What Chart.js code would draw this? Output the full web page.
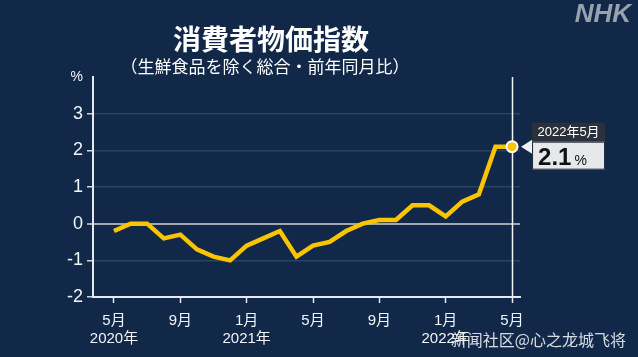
<!DOCTYPE html>
<html><head><meta charset="utf-8">
<script src="https://cdn.jsdelivr.net/npm/chart.js@4"></script>
<style>html,body{margin:0;padding:0;background:#112849;}#wrap{width:638px;height:357px;position:relative;}</style>
</head><body><div id="wrap"><canvas id="c" width="638" height="357"></canvas></div>
<script>
const months = ['2020年5月','6月','7月','8月','9月','10月','11月','12月','2021年1月','2月','3月','4月','5月','6月','7月','8月','9月','10月','11月','12月','2022年1月','2月','3月','4月','2022年5月'];
const cpi = [-0.2,0.0,0.0,-0.4,-0.3,-0.7,-0.9,-1.0,-0.6,-0.4,-0.2,-0.9,-0.6,-0.5,-0.2,0.0,0.1,0.1,0.5,0.5,0.2,0.6,0.8,2.1,2.1];
const tickPositions = [0,4,8,12,16,20,24];
const tickMonths = ['5月','9月','1月','5月','9月','1月','5月'];
const tickYears = ['2020年','','2021年','','','2022年',''];
const yTicks = [-2,-1,0,1,2,3,4];
const titleText = '消費者物価指数';
const subtitleText = '（生鮮食品を除く総合・前年同月比）';
const calloutLabel = '2022年5月';
const calloutValue = '2.1';
const watermark = '新闻社区@心之龙城飞将';

const BG = '#112849';
const FONT = "'Liberation Sans','Noto Sans CJK JP',sans-serif";
const JP = "'Noto Sans CJK JP',sans-serif";

const deco = {
  id:'deco',
  beforeDraw(chart){
    const ctx = chart.ctx;
    ctx.save();
    ctx.fillStyle = BG; ctx.fillRect(0,0,chart.width,chart.height);
    ctx.fillStyle = '#ffffff'; ctx.textAlign='center'; ctx.textBaseline='middle';
    ctx.font = "bold 28px " + JP; ctx.fillText(titleText, 271, 39);
    ctx.font = "17px " + JP; ctx.fillText(subtitleText, 265, 67);
    ctx.fillStyle = '#98a2ae'; ctx.font = "italic bold 26px 'Liberation Sans',sans-serif";
    ctx.textAlign='right'; ctx.fillText('NHK', 631, 15);
    ctx.restore();
  },
  beforeDatasetsDraw(chart){
    const ctx = chart.ctx, xs = chart.scales.x, a = chart.chartArea;
    const x = Math.round(xs.getPixelForValue(cpi.length-1))+0.5;
    ctx.save(); ctx.strokeStyle='#f2f4f6'; ctx.lineWidth=1.5;
    ctx.beginPath(); ctx.moveTo(x,a.top); ctx.lineTo(x,a.bottom); ctx.stroke(); ctx.restore();
  },
  afterDraw(chart){
    const ctx = chart.ctx, xs = chart.scales.x, ys = chart.scales.y;
    const i = cpi.length-1;
    const px = xs.getPixelForValue(i), py = ys.getPixelForValue(cpi[i]);
    ctx.save();
    ctx.fillStyle='#eef0f3';
    ctx.beginPath(); ctx.moveTo(px+9,py); ctx.lineTo(px+20,py-7); ctx.lineTo(px+20,py+7); ctx.closePath(); ctx.fill();
    const bx = px+20, bw = 73;
    ctx.fillStyle='#2b313b'; ctx.fillRect(bx, py-24, bw, 19);
    ctx.fillStyle='#ffffff'; ctx.font="13px " + FONT; ctx.textAlign='center'; ctx.textBaseline='middle';
    ctx.fillText(calloutLabel, bx+bw/2, py-14);
    ctx.fillStyle='#e6e8ec'; ctx.fillRect(bx, py-5, bw, 28);
    ctx.strokeStyle='#1c2633'; ctx.lineWidth=1; ctx.strokeRect(bx+0.5, py-4.5, bw-1, 27);
    ctx.fillStyle='#111111'; ctx.textAlign='left'; ctx.textBaseline='alphabetic';
    ctx.font="bold 24px " + FONT; ctx.fillText(calloutValue, bx+6, py+18);
    const w = ctx.measureText(calloutValue).width;
    ctx.font="14px " + FONT; ctx.fillText('%', bx+6+w+3, py+18);
    ctx.fillStyle='rgba(235,238,242,0.9)'; ctx.font="16px 'Noto Sans CJK SC',sans-serif";
    ctx.textAlign='right'; ctx.textBaseline='middle'; ctx.fillText(watermark, 626, 340);
    ctx.restore();
  }
};

new Chart(document.getElementById('c'), {
  type:'line',
  data:{ datasets:[{
    data: cpi.map((v,i)=>({x:i,y:v})),
    borderColor:'#f9c500', borderWidth:4.5, tension:0, borderJoinStyle:'miter',
    pointRadius: cpi.map((v,i)=> i===cpi.length-1 ? 5.5 : 0),
    pointBackgroundColor:'#f9c500', pointBorderColor:'#ffffff', pointBorderWidth:2,
    clip:false
  }]},
  options:{
    responsive:false, animation:false, devicePixelRatio:1,
    layout:{padding:{top:77,right:118,left:0,bottom:0}},
    plugins:{legend:{display:false}, tooltip:{enabled:false}},
    scales:{
      x:{
        type:'linear', min:-1.266, max:24.48,
        afterBuildTicks(s){ s.ticks = tickPositions.map(v=>({value:v})); },
        afterFit(s){ s.height = 60; },
        ticks:{ autoSkip:false, maxRotation:0, color:'#f2f4f6', padding:8,
          font:{family:FONT,size:15,lineHeight:1.25},
          callback(v){ const k=tickPositions.indexOf(v); return tickYears[k] ? [tickMonths[k], tickYears[k]] : tickMonths[k]; } },
        grid:{ drawOnChartArea:false, drawTicks:true, tickLength:6, tickColor:'#e6e9ed', tickWidth:1.5 },
        border:{ display:true, color:'#e6e9ed', width:2 }
      },
      y:{
        min:-2, max:4,
        afterBuildTicks(s){ s.ticks = yTicks.map(v=>({value:v})); },
        afterFit(s){ s.width = 93; },
        ticks:{ color:'#f2f4f6', padding:4,
          font:(c)=> ({family:FONT, size: c.tick && c.tick.value===4 ? 14 : 18}),
          callback(v){ return v===4 ? '%' : String(v); } },
        grid:{ drawTicks:true, tickLength:6,
          color:(c)=> c.tick.value===0 ? '#a0a7b2' : (c.tick.value===4||c.tick.value===-2 ? 'rgba(0,0,0,0)' : '#2b4362'),
          lineWidth:(c)=> c.tick.value===0 ? 2 : 1.5,
          tickColor:(c)=> c.tick.value===4 ? 'rgba(0,0,0,0)' : '#d0d4da', tickWidth:1.5 },
        border:{ display:true, color:'#e6e9ed', width:2 }
      }
    }
  },
  plugins:[deco]
});
</script></body></html>
